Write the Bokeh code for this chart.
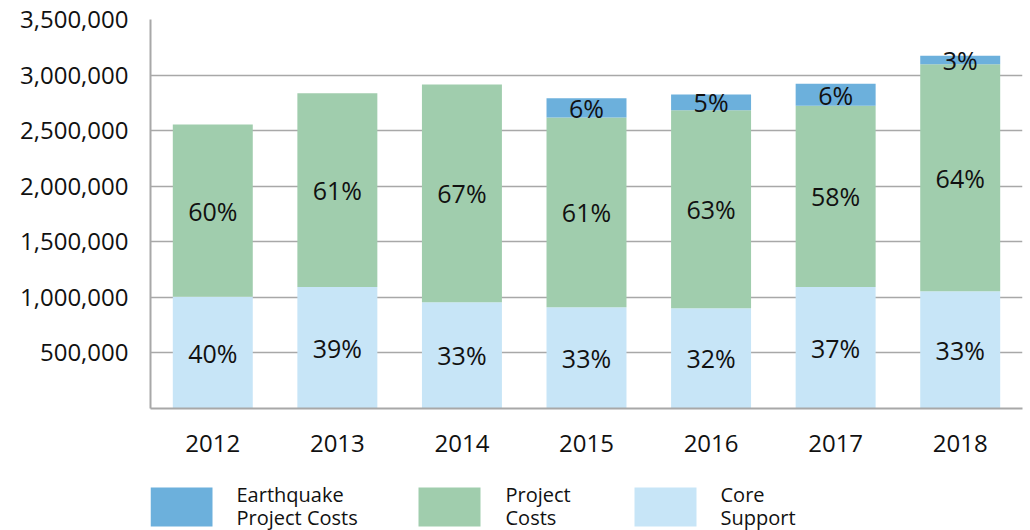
from bokeh.plotting import figure
from bokeh.models import ColumnDataSource, FactorRange, Range1d, FixedTicker, NumeralTickFormatter
from bokeh.layouts import column
from bokeh.core.properties import value
from bokeh.embed import file_html
from bokeh.resources import INLINE

years = ["2012", "2013", "2014", "2015", "2016", "2017", "2018"]
core_support = [1005000, 1093000, 957000, 912000, 903000, 1093000, 1054000]
project_costs = [1550000, 1744000, 1958000, 1706000, 1781000, 1630000, 2044000]
earthquake_costs = [0, 0, 0, 174000, 141000, 198000, 75000]
core_pct = ["40%", "39%", "33%", "33%", "32%", "37%", "33%"]
project_pct = ["60%", "61%", "67%", "61%", "63%", "58%", "64%"]
earthquake_pct = ["", "", "", "6%", "5%", "6%", "3%"]
y_ticks = [500000, 1000000, 1500000, 2000000, 2500000, 3000000, 3500000]
legend_labels = [["Earthquake", "Project Costs"], ["Project", "Costs"], ["Core", "Support"]]

FONT = "Open Sans"
C_CORE = "#c7e5f7"
C_PROJ = "#a0cdad"
C_EQ = "#6cb0dc"
GRID = "#a8a8a8"
TXT = "#111111"

core_top = core_support
proj_top = [c + p for c, p in zip(core_support, project_costs)]
eq_top = [c + p + e for c, p, e in zip(core_support, project_costs, earthquake_costs)]

src = ColumnDataSource(dict(
    year=years,
    zero=[0] * len(years),
    core_top=core_top,
    proj_top=proj_top,
    eq_top=eq_top,
    core_mid=[c / 2 for c in core_top],
    proj_mid=[(a + b) / 2 for a, b in zip(core_top, proj_top)],
    eq_mid=[(a + b) / 2 for a, b in zip(proj_top, eq_top)],
    core_pct=core_pct,
    project_pct=project_pct,
    earthquake_pct=earthquake_pct,
))

p = figure(x_range=FactorRange(*years, range_padding=0),
           y_range=Range1d(0, 3500000),
           width=1030, height=476, output_backend="svg", toolbar_location=None,
           min_border_left=150, min_border_right=8, min_border_top=19, min_border_bottom=68)
p.outline_line_color = None
p.background_fill_color = "white"

W = 0.642
p.vbar(x="year", bottom="zero", top="core_top", width=W, source=src, fill_color=C_CORE, line_color=None)
p.vbar(x="year", bottom="core_top", top="proj_top", width=W, source=src, fill_color=C_PROJ, line_color=None)
p.vbar(x="year", bottom="proj_top", top="eq_top", width=W, source=src, fill_color=C_EQ, line_color=None)

for col, ycol in (("core_pct", "core_mid"), ("project_pct", "proj_mid"), ("earthquake_pct", "eq_mid")):
    p.text(x="year", y=ycol, text=col, source=src, text_align="center", text_baseline="middle",
           text_font=value(FONT), text_font_size="25px", text_color=TXT)

p.xgrid.grid_line_color = None
p.ygrid.grid_line_color = GRID
p.ygrid.grid_line_width = 1.5
p.ygrid.ticker = FixedTicker(ticks=y_ticks)

p.yaxis.ticker = FixedTicker(ticks=y_ticks)
p.yaxis.formatter = NumeralTickFormatter(format="0,0")
p.yaxis.axis_line_color = GRID
p.yaxis.axis_line_width = 2
p.yaxis.major_tick_line_color = None
p.yaxis.minor_tick_line_color = None
p.yaxis.major_tick_out = 0
p.yaxis.minor_tick_out = 0
p.yaxis.major_label_standoff = 22
p.yaxis.major_label_text_font = FONT
p.yaxis.major_label_text_font_size = "24px"
p.yaxis.major_label_text_color = TXT

p.xaxis.axis_line_color = GRID
p.xaxis.axis_line_width = 2
p.xaxis.major_tick_line_color = None
p.xaxis.minor_tick_line_color = None
p.xaxis.major_tick_out = 0
p.xaxis.minor_tick_out = 0
p.xaxis.major_label_standoff = 26
p.xaxis.major_label_text_font = FONT
p.xaxis.major_label_text_font_size = "24px"
p.xaxis.major_label_text_color = TXT

# legend strip (frame aligned with the main plot's frame: x from 150 to 1022)
leg = figure(x_range=Range1d(150, 1022), y_range=Range1d(54, 0), width=1030, height=54,
             output_backend="svg", toolbar_location=None,
             min_border_left=150, min_border_right=8, min_border_top=0, min_border_bottom=0)
leg.axis.visible = False
leg.grid.visible = False
leg.outline_line_color = None

sw_left = [150, 418, 634]
sw_w = 62
txt_x = [236, 505, 720]
colors = [C_EQ, C_PROJ, C_CORE]
leg.quad(left=sw_left, right=[s + sw_w for s in sw_left], top=[11] * 3, bottom=[50] * 3,
         fill_color=colors, line_color=None)
leg.text(x=txt_x, y=[18] * 3, text=[l[0] for l in legend_labels], text_align="left",
         text_baseline="alphabetic", text_font=value(FONT), text_font_size="20px", text_color=TXT)
leg.text(x=txt_x, y=[41] * 3, text=[l[1] for l in legend_labels], text_align="left",
         text_baseline="alphabetic", text_font=value(FONT), text_font_size="20px", text_color=TXT)

layout = column(p, leg, spacing=0)
open("out.html", "w").write(file_html(layout, INLINE))
